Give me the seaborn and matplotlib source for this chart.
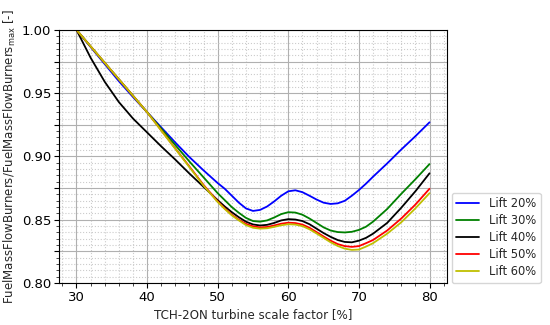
import numpy as np
import pandas as pd
import matplotlib
matplotlib.use('Agg')
import matplotlib.pyplot as plt
from matplotlib.ticker import MultipleLocator, FuncFormatter
import seaborn as sns

# Scale factor grid (x) and normalised fuel mass flow for each lift level
scale_factor = [30, 32, 34, 36, 38, 40, 42, 44, 46, 48,
                50, 51, 52, 53, 54, 55, 56, 57, 58, 59, 60, 61,
                62, 63, 64, 65, 66, 67, 68, 69, 70, 71, 72,
                74, 76, 78, 80]

lift_20 = [1.000, 0.9865, 0.973, 0.9595, 0.947, 0.935, 0.923, 0.911, 0.8995, 0.889,
           0.879, 0.8745, 0.869, 0.8635, 0.859, 0.857, 0.8578, 0.8605, 0.8645, 0.869, 0.8725, 0.8733,
           0.8718, 0.869, 0.866, 0.8635, 0.8625, 0.863, 0.865, 0.869, 0.8735, 0.8785, 0.884,
           0.8945, 0.9055, 0.916, 0.927]

lift_30 = [1.000, 0.987, 0.974, 0.961, 0.948, 0.935, 0.922, 0.909, 0.896, 0.8835,
           0.871, 0.8655, 0.860, 0.8555, 0.8515, 0.849, 0.8485, 0.8495, 0.8518, 0.8545, 0.856, 0.8557,
           0.854, 0.851, 0.8475, 0.844, 0.8415, 0.8403, 0.840, 0.8405, 0.842, 0.8445, 0.8485,
           0.8585, 0.8705, 0.882, 0.894]

lift_40 = [1.000, 0.978, 0.959, 0.943, 0.930, 0.919, 0.908, 0.8975, 0.8865, 0.876,
           0.8655, 0.8605, 0.856, 0.852, 0.8485, 0.8463, 0.8455, 0.846, 0.8475, 0.8495, 0.8505, 0.8502,
           0.849, 0.8465, 0.843, 0.8395, 0.8365, 0.834, 0.8325, 0.8322, 0.8335, 0.8357, 0.839,
           0.8475, 0.8595, 0.8725, 0.8867]

lift_50 = [1.000, 0.987, 0.974, 0.961, 0.948, 0.935, 0.9207, 0.9063, 0.892, 0.8775,
           0.8645, 0.859, 0.854, 0.850, 0.8468, 0.8448, 0.844, 0.8443, 0.8455, 0.8469, 0.8477, 0.8474,
           0.8462, 0.8437, 0.8403, 0.8368, 0.8335, 0.8308, 0.8292, 0.8286, 0.8292, 0.8315, 0.834,
           0.8415, 0.851, 0.862, 0.8745]

lift_60 = [1.000, 0.987, 0.974, 0.961, 0.948, 0.935, 0.9205, 0.906, 0.8915, 0.877,
           0.864, 0.8585, 0.8535, 0.8495, 0.8458, 0.8437, 0.843, 0.8433, 0.8444, 0.8457, 0.8465, 0.8462,
           0.845, 0.8425, 0.8392, 0.8357, 0.8322, 0.8293, 0.8272, 0.8262, 0.8265, 0.8288, 0.8315,
           0.839, 0.848, 0.859, 0.871]

labels = ['Lift 20%', 'Lift 30%', 'Lift 40%', 'Lift 50%', 'Lift 60%']
colours = ['b', 'g', 'k', 'r', 'y']

sns.set_style('white')
plt.rcParams['font.family'] = ['DejaVu Sans']

fig, ax = plt.subplots(figsize=(5.5, 3.25), dpi=100)
fig.subplots_adjust(left=0.107, right=0.813, top=0.908, bottom=0.129)

for vals, lab, col in zip([lift_20, lift_30, lift_40, lift_50, lift_60], labels, colours):
    sns.lineplot(x=scale_factor, y=vals, label=lab, color=col, linewidth=1.3, ax=ax)

ax.set_ylim(0.80, 1.00)
ax.set_xlim(27.5, 82.5)

# major grid every 0.025 but only label every 0.05
ax.xaxis.set_major_locator(MultipleLocator(10))
ax.xaxis.set_minor_locator(MultipleLocator(2))
ax.yaxis.set_major_locator(MultipleLocator(0.025))
ax.yaxis.set_minor_locator(MultipleLocator(0.005))
ax.yaxis.set_major_formatter(FuncFormatter(
    lambda v, p: f'{v:.2f}' if abs(round(v / 0.05) * 0.05 - v) < 1e-6 else ''))

ax.grid(which='major', color='#b0b0b0', linestyle='-', linewidth=0.8)
ax.grid(which='minor', color='#cccccc', linestyle=':', linewidth=0.8)
ax.tick_params(which='major', direction='out', length=3.5, width=0.8, labelsize=9.5, pad=2,
               bottom=True, left=True, colors='black')
ax.tick_params(which='minor', direction='out', length=2, width=0.6, bottom=True, left=True)
for s in ax.spines.values():
    s.set_color('black')
    s.set_linewidth(0.8)

ax.set_xlabel('TCH-2ON turbine scale factor [%]', fontsize=8.6, labelpad=3)
ax.set_ylabel('FuelMassFlowBurners/FuelMassFlowBurners$_{\\mathrm{max}}$ [-]', fontsize=8.5,
              labelpad=3)

ax.legend(loc='lower left', bbox_to_anchor=(1.012, 0.0), fontsize=8.3, frameon=True,
          labelspacing=0.35, edgecolor='#cccccc', fancybox=True, borderaxespad=0)

fig.savefig('out.png', dpi=100)
